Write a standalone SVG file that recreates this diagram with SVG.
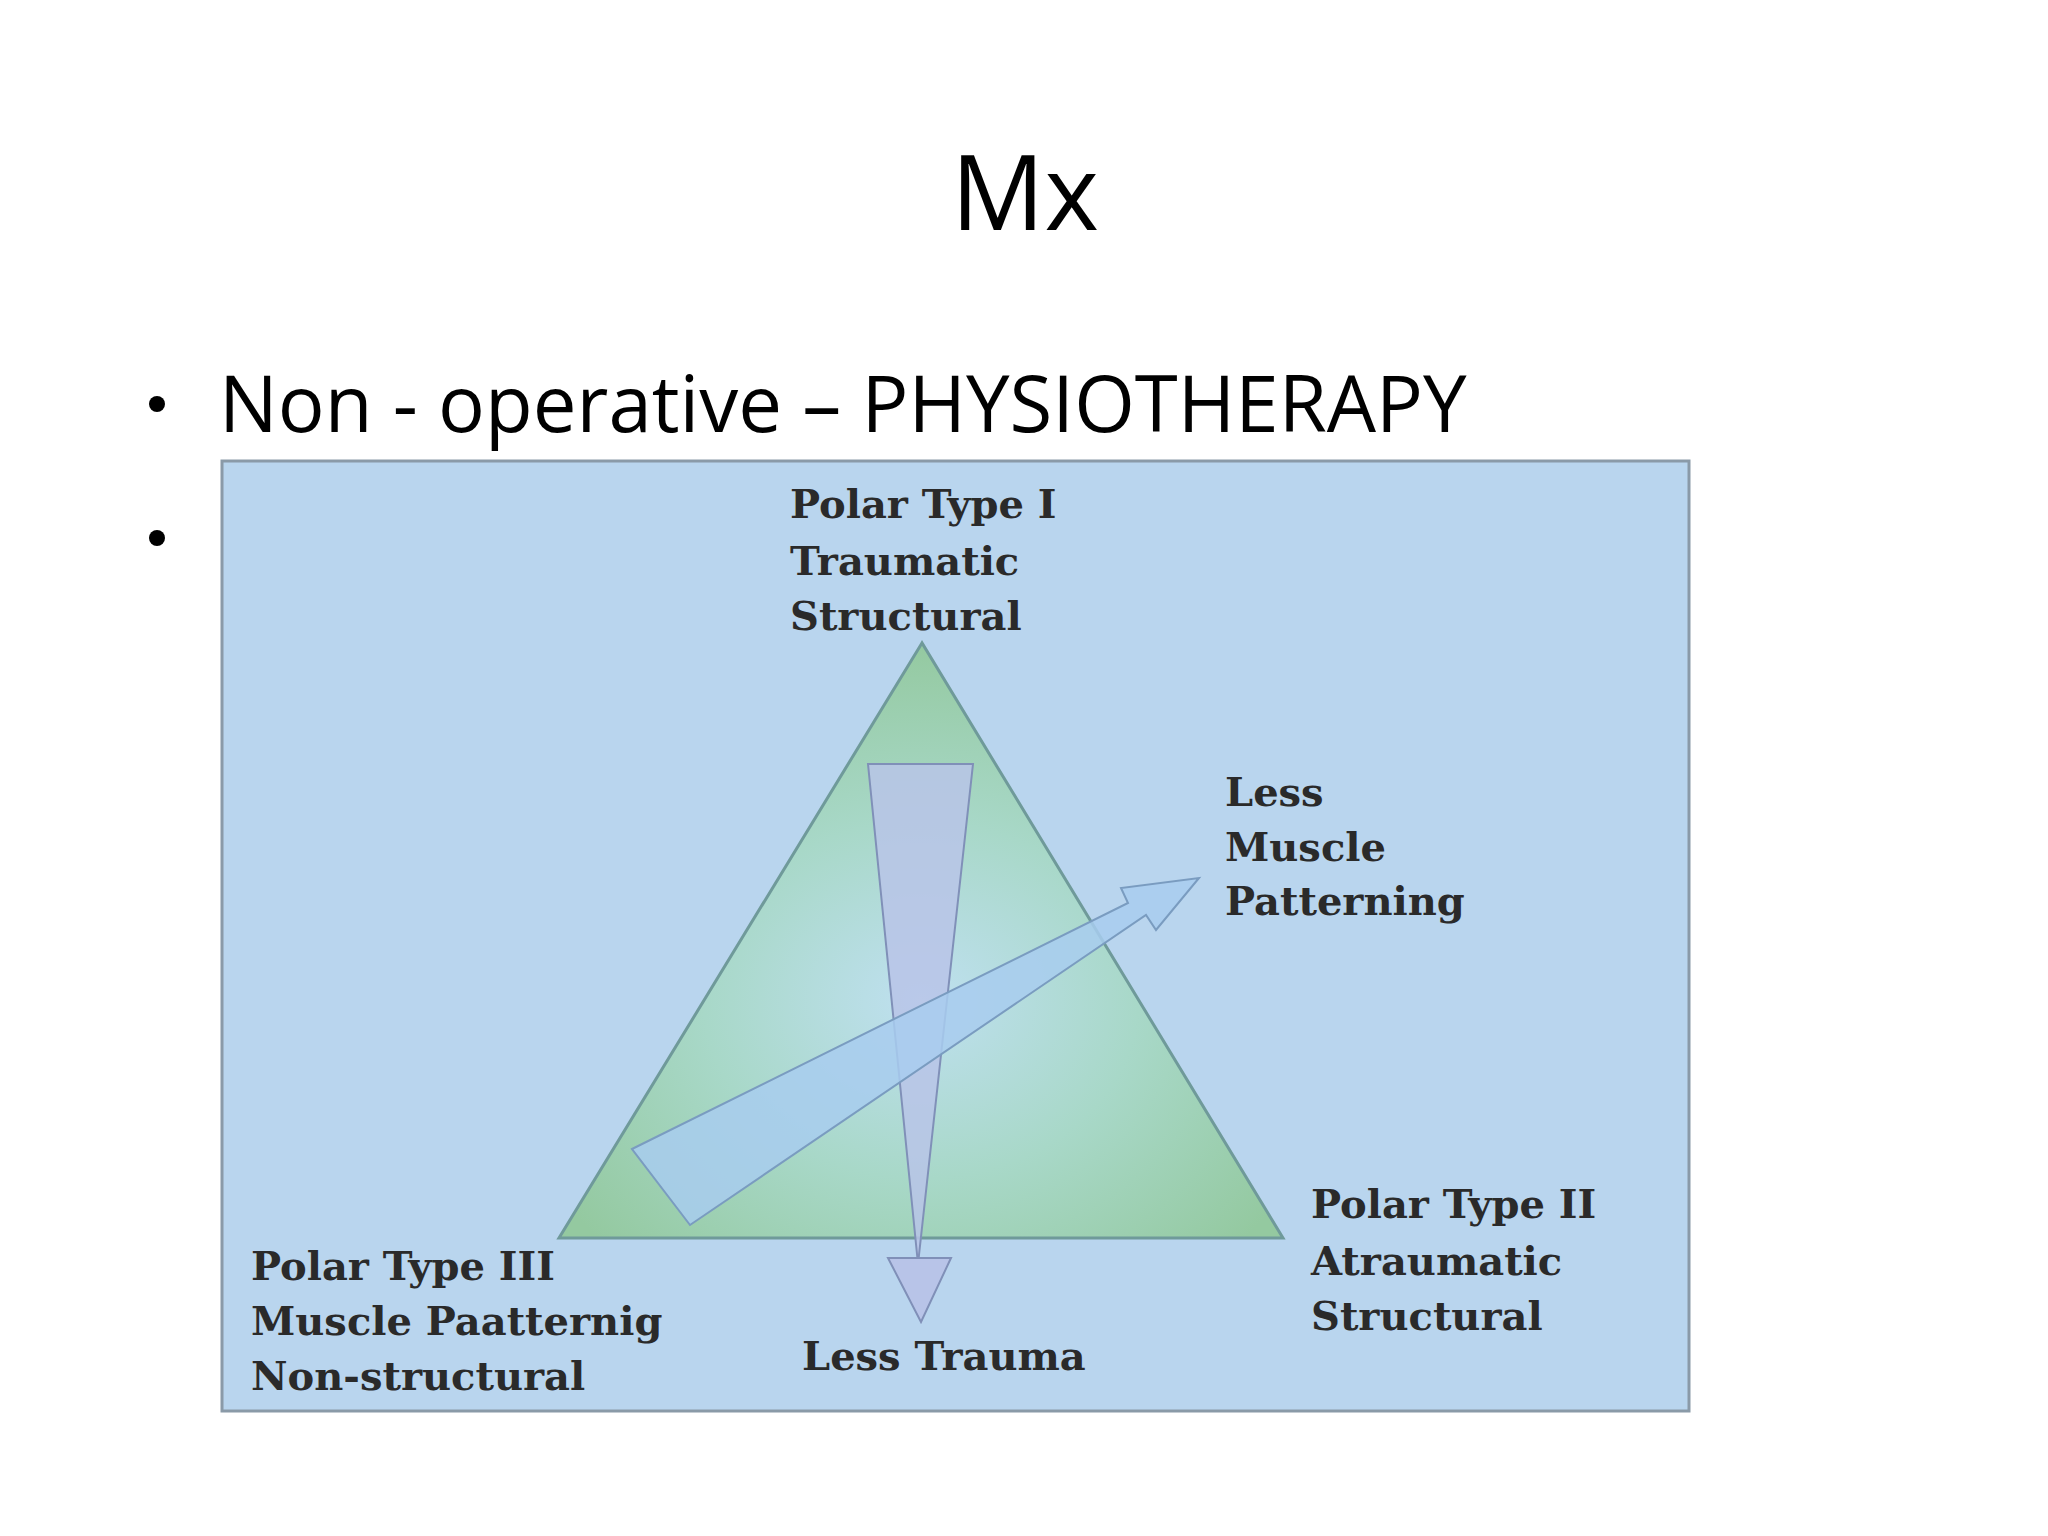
<svg xmlns="http://www.w3.org/2000/svg" width="2048" height="1536" viewBox="0 0 2048 1536">
<style>
.s{font-family:"Open Sans","Liberation Sans",sans-serif;fill:#000}
.l{font-family:"DejaVu Serif","Liberation Serif",serif;font-weight:bold;font-size:40px;fill:#2a2a2a}
</style>
<defs>
<radialGradient id="g" cx="0.5" cy="0.6" r="0.6">
<stop offset="0" stop-color="#bfe0f0"/><stop offset="0.5" stop-color="#a8d8c8"/><stop offset="1" stop-color="#94c9a0"/>
</radialGradient>
</defs>
<rect width="2048" height="1536" fill="#fff"/>
<text class="s" x="1025" y="230" font-size="104" text-anchor="middle">Mx</text>
<circle cx="157" cy="404" r="8" fill="#000"/>
<text class="s" x="219" y="432" font-size="78">Non -  operative – PHYSIOTHERAPY</text>
<circle cx="157" cy="538" r="8" fill="#000"/>
<g id="figure">
<rect x="222" y="461" width="1467" height="950" fill="#b9d5ee" stroke="#8a9aa8" stroke-width="3"/>
<polygon points="922,643 559,1238 1283,1238" fill="url(#g)" stroke="#6f9a9a" stroke-width="3"/>
</g>
<g id="connectors">
<polygon points="868,764 973,764 918,1264" fill="#b8c4e8" fill-opacity="0.85" stroke="#8090b8" stroke-width="2"/>
<polygon points="888,1258 951,1258 921,1322" fill="#b8c4e8" stroke="#8090b8" stroke-width="2"/>
<polygon points="632,1149 1128,903 1121,888 1199,878 1156,930 1146,915 690,1225" fill="#a8cdef" fill-opacity="0.85" stroke="#7a9cc0" stroke-width="2"/>
</g>
<g id="n1"><text class="l" x="790" y="518">Polar Type I</text><text class="l" x="790" y="575">Traumatic</text><text class="l" x="790" y="630">Structural</text></g>
<g id="n2"><text class="l" x="1225" y="806">Less</text><text class="l" x="1225" y="861">Muscle</text><text class="l" x="1225" y="915">Patterning</text></g>
<g id="n3"><text class="l" x="1311" y="1218">Polar Type II</text><text class="l" x="1311" y="1275">Atraumatic</text><text class="l" x="1311" y="1330">Structural</text></g>
<g id="n4"><text class="l" x="251" y="1280">Polar Type III</text><text class="l" x="251" y="1335">Muscle Paatternig</text><text class="l" x="251" y="1390">Non-structural</text></g>
<g id="n5"><text class="l" x="802" y="1370">Less Trauma</text></g>
</svg>
